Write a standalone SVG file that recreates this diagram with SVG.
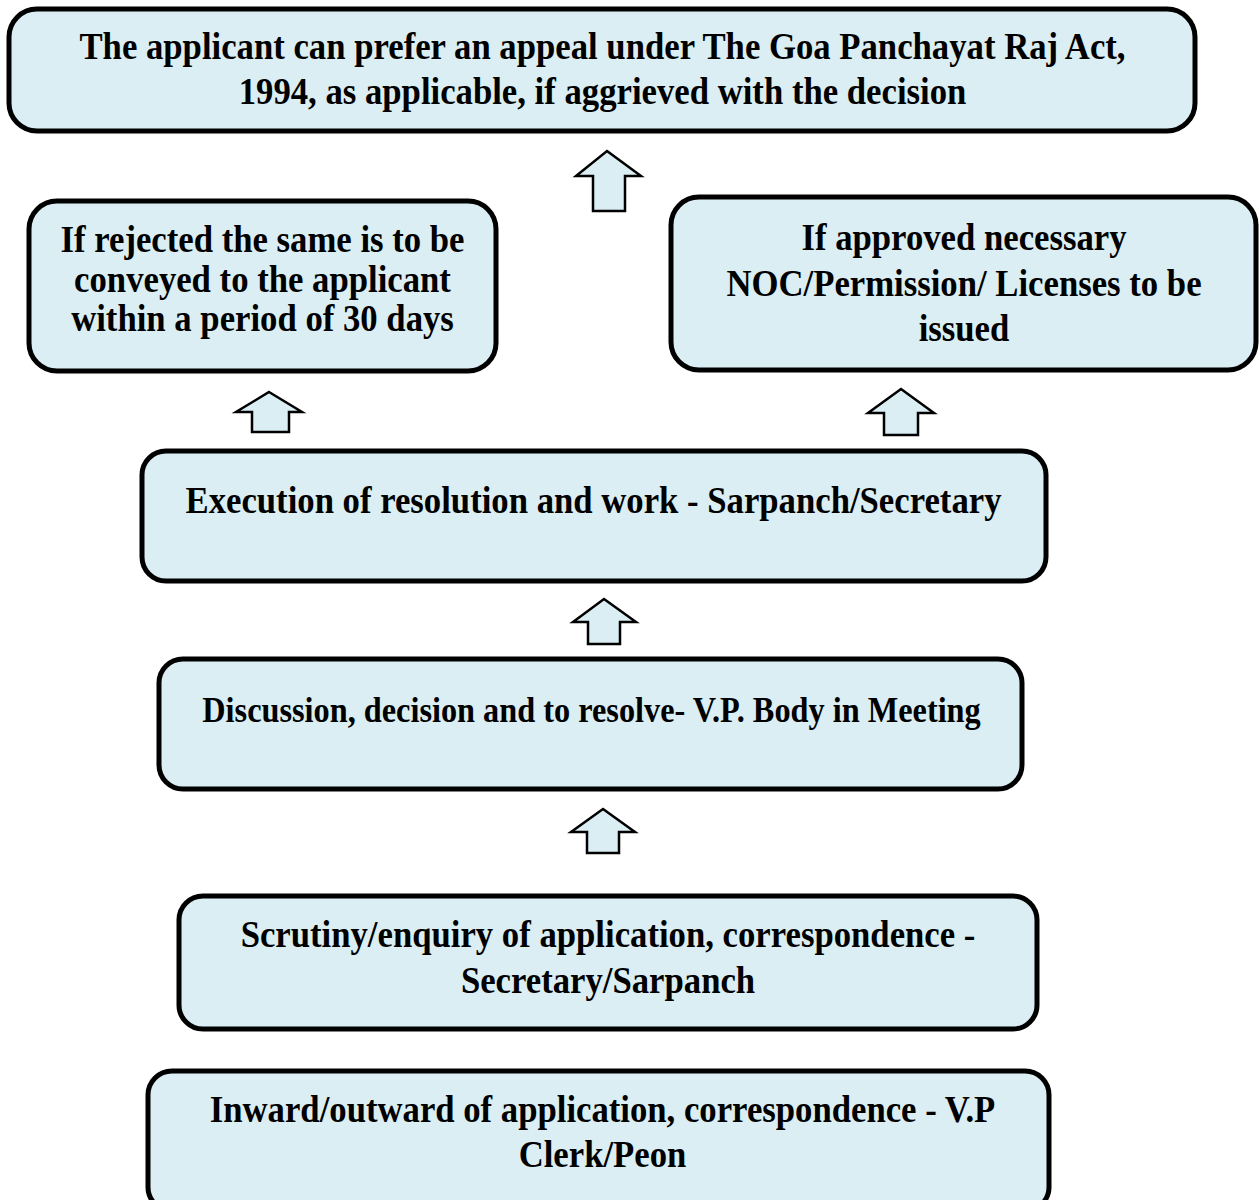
<svg xmlns="http://www.w3.org/2000/svg" width="1260" height="1200" viewBox="0 0 1260 1200">
<style>
.box{fill:#DAEEF3;stroke:#000;stroke-width:5}
.arr{fill:#DAEEF3;stroke:#000;stroke-width:2.5;stroke-linejoin:miter}
text{fill:#000;text-anchor:middle}
</style>
<rect width="1260" height="1200" fill="#fff"/>
<g id="node-appeal" font-family="Liberation Serif, Times New Roman, serif" font-weight="bold" font-size="34.7">
<rect class="box" x="9" y="9" width="1186" height="122" rx="28"/>
<text transform="matrix(1,0,0,1.08,602.5,59)">The applicant can prefer an appeal under The Goa Panchayat Raj Act,</text>
<text transform="matrix(1,0,0,1.08,602.5,104)">1994, as applicable, if aggrieved with the decision</text>
</g>
<g id="node-rejected" font-family="Liberation Serif, Times New Roman, serif" font-weight="bold" font-size="34.7">
<rect class="box" x="29" y="201" width="467" height="170" rx="28"/>
<text transform="matrix(1,0,0,1.08,262.5,252)">If rejected the same is to be</text>
<text transform="matrix(1,0,0,1.08,262.5,292)">conveyed to the applicant</text>
<text transform="matrix(1,0,0,1.08,262.5,331)">within a period of 30 days</text>
</g>
<g id="node-approved" font-family="Liberation Serif, Times New Roman, serif" font-weight="bold" font-size="34.7">
<rect class="box" x="671" y="197" width="585" height="173" rx="28"/>
<text transform="matrix(1,0,0,1.08,964,250)">If approved necessary</text>
<text transform="matrix(1,0,0,1.08,964,296)">NOC/Permission/ Licenses to be</text>
<text transform="matrix(1,0,0,1.08,964,341)">issued</text>
</g>
<g id="node-execution" font-family="Liberation Serif, Times New Roman, serif" font-weight="bold" font-size="34.7">
<rect class="box" x="142" y="451" width="904" height="130" rx="24"/>
<text transform="matrix(1,0,0,1.08,593.5,513)">Execution of resolution and work - Sarpanch/Secretary</text>
</g>
<g id="node-discussion" font-family="Liberation Serif, Times New Roman, serif" font-weight="bold" font-size="32.3">
<rect class="box" x="159" y="659" width="863" height="130" rx="24"/>
<text transform="matrix(1,0,0,1.08,591.5,722)">Discussion, decision and to resolve- V.P. Body in Meeting</text>
</g>
<g id="node-scrutiny" font-family="Liberation Serif, Times New Roman, serif" font-weight="bold" font-size="34.7">
<rect class="box" x="179" y="896" width="858" height="133" rx="24"/>
<text transform="matrix(1,0,0,1.08,608,947)">Scrutiny/enquiry of application, correspondence -</text>
<text transform="matrix(1,0,0,1.08,608,993)">Secretary/Sarpanch</text>
</g>
<g id="node-inward" font-family="Liberation Serif, Times New Roman, serif" font-weight="bold" font-size="34.7">
<rect class="box" x="148" y="1071" width="901" height="140" rx="24"/>
<text transform="matrix(1,0,0,1.08,602.5,1122)">Inward/outward of application, correspondence - V.P</text>
<text transform="matrix(1,0,0,1.08,602.5,1167)">Clerk/Peon</text>
</g>
<g id="connectors">
<polygon class="arr" points="607,151 641,176 625,176 625,211 593,211 593,176 576,176"/>
<polygon class="arr" points="269,392 302,412 289,412 289,432 252,432 252,412 236,412"/>
<polygon class="arr" points="901,389 934,413 918,413 918,435 884,435 884,413 868,413"/>
<polygon class="arr" points="604,599 636,622 620,622 620,644 588,644 588,622 573,622"/>
<polygon class="arr" points="603,809 635,832 619,832 619,853 587,853 587,832 571,832"/>
</g>
</svg>
